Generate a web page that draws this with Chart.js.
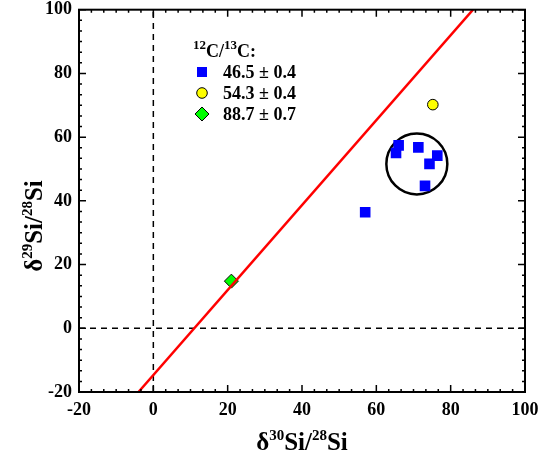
<!DOCTYPE html>
<html lang="en">
<head>
<meta charset="UTF-8">
<title>Si isotopes</title>
<script src="https://cdn.jsdelivr.net/npm/chart.js@4.4.0/dist/chart.umd.min.js"></script>
<style>
  body { margin: 0; background: #fff; }
  #wrap { width: 552px; height: 459px; }
</style>
</head>
<body>
<div id="wrap"><canvas id="siChart"></canvas></div>
<script>
// data
var blueX = [57, 66, 65.3, 71.3, 76.4, 74.3, 73.1];
var blueY = [36.4, 57.4, 55, 56.8, 54.2, 51.6, 44.7];
var yellowX = [75.2];
var yellowY = [70.2];
var greenX = [21];
var greenY = [14.8];
var redLineX = [-4, 86];
var redLineY = [-20, 100];
var circleX = [70.9];
var circleY = [51.6];
var legendLabels = ['46.5 \u00b1 0.4', '54.3 \u00b1 0.4', '88.7 \u00b1 0.7'];
var axisMin = -20, axisMax = 100, axisStep = 20;

function pts(xs, ys) {
    return xs.map(function (x, i) { return { x: x, y: ys[i] }; });
}

var SERIF = '"Liberation Serif", "Times New Roman", serif';

// text with superscripts: parts = [[text, isSup], ...]
function drawRich(ctx, parts, x, y, size, supSize, align) {
    var total = 0;
    parts.forEach(function (p) {
        ctx.font = 'bold ' + (p[1] ? supSize : size) + 'px ' + SERIF;
        total += ctx.measureText(p[0]).width;
    });
    var cx = align === 'center' ? x - total / 2 : x;
    ctx.textBaseline = 'alphabetic';
    ctx.textAlign = 'left';
    parts.forEach(function (p) {
        ctx.font = 'bold ' + (p[1] ? supSize : size) + 'px ' + SERIF;
        ctx.fillText(p[0], cx, p[1] ? y - size * 0.42 : y);
        cx += ctx.measureText(p[0]).width;
    });
}

var framePlugin = {
    id: 'frame',
    afterDatasetsDraw: function (chart) {
        var ctx = chart.ctx, a = chart.chartArea;
        var xs = chart.scales.x, ys = chart.scales.y;
        ctx.save();
        ctx.strokeStyle = '#000';
        ctx.lineWidth = 2;
        ctx.strokeRect(a.left, a.top, a.right - a.left, a.bottom - a.top);
        ctx.lineWidth = 1.5;
        ctx.beginPath();
        for (var i = 0; i <= 36; i++) {
            var v = axisMin + i * axisStep / 6;
            var len = i % 6 === 0 ? 7 : 3;
            var px = xs.getPixelForValue(v), py = ys.getPixelForValue(v);
            ctx.moveTo(px, a.bottom); ctx.lineTo(px, a.bottom - len);
            ctx.moveTo(px, a.top); ctx.lineTo(px, a.top + len);
            ctx.moveTo(a.left, py); ctx.lineTo(a.left + len, py);
            ctx.moveTo(a.right, py); ctx.lineTo(a.right - len, py);
        }
        ctx.stroke();

        // legend
        ctx.fillStyle = '#000';
        drawRich(ctx, [['12', true], ['C/', false], ['13', true], ['C:', false]], 193, 57, 18, 13, 'left');
        var rows = [72, 93, 114];
        ctx.lineWidth = 1;
        // square
        ctx.fillStyle = '#0000ff';
        ctx.fillRect(197, rows[0] - 5, 10, 10);
        // circle
        ctx.beginPath();
        ctx.arc(202, rows[1], 5.3, 0, Math.PI * 2);
        ctx.fillStyle = '#ffff00';
        ctx.fill();
        ctx.strokeStyle = '#000';
        ctx.stroke();
        // diamond
        ctx.beginPath();
        ctx.moveTo(202, rows[2] - 7); ctx.lineTo(209, rows[2]);
        ctx.lineTo(202, rows[2] + 7); ctx.lineTo(195, rows[2]);
        ctx.closePath();
        ctx.fillStyle = '#00ff00';
        ctx.fill();
        ctx.stroke();
        ctx.fillStyle = '#000';
        ctx.font = 'bold 18px ' + SERIF;
        ctx.textAlign = 'left';
        ctx.textBaseline = 'alphabetic';
        legendLabels.forEach(function (t, i) {
            ctx.fillText(t, 223, rows[i] + 6);
        });

        // axis titles
        var cxm = (a.left + a.right) / 2;
        drawRich(ctx, [['\u03b4', false], ['30', true], ['Si/', false], ['28', true], ['Si', false]], cxm, 450, 25, 15, 'center');
        ctx.translate(42, 226);
        ctx.rotate(-Math.PI / 2);
        drawRich(ctx, [['\u03b4', false], ['29', true], ['Si/', false], ['28', true], ['Si', false]], 0, 0, 25, 15, 'center');
        ctx.restore();
    }
};

var ctx = document.getElementById('siChart').getContext('2d');
var chart = new Chart(ctx, {
    type: 'scatter',
    data: {
        datasets: [{
            type: 'line',
            data: pts(redLineX, redLineY),
            borderColor: '#ff0000',
            borderWidth: 2.5,
            pointRadius: 0,
            fill: false
        }, {
            type: 'line',
            data: pts([0, 0], [axisMin, axisMax]),
            borderColor: '#000',
            borderWidth: 1.5,
            borderDash: [6, 5],
            pointRadius: 0
        }, {
            type: 'line',
            data: pts([axisMin, axisMax], [0, 0]),
            borderColor: '#000',
            borderWidth: 1.5,
            borderDash: [6, 5],
            pointRadius: 0
        }, {
            data: pts(blueX, blueY),
            pointStyle: 'rect',
            pointRadius: 7.5,
            backgroundColor: '#0000ff',
            borderColor: '#0000ff',
            borderWidth: 0
        }, {
            data: pts(yellowX, yellowY),
            pointStyle: 'circle',
            pointRadius: 5.3,
            backgroundColor: '#ffff00',
            borderColor: '#000',
            borderWidth: 1
        }, {
            data: pts(greenX, greenY),
            pointStyle: 'rectRot',
            pointRadius: 7,
            backgroundColor: '#00ff00',
            borderColor: '#000',
            borderWidth: 1
        }, {
            data: pts(circleX, circleY),
            pointStyle: 'circle',
            pointRadius: 30.5,
            backgroundColor: 'rgba(0,0,0,0)',
            borderColor: '#000',
            borderWidth: 2.5
        }]
    },
    options: {
        responsive: true,
        maintainAspectRatio: false,
        animation: false,
        layout: { autoPadding: false, padding: { top: 6, right: 27, left: 0, bottom: 0 } },
        plugins: {
            legend: { display: false },
            tooltip: { enabled: false }
        },
        scales: {
            x: {
                type: 'linear',
                min: axisMin,
                max: axisMax,
                afterFit: function (s) { s.height = 67; },
                grid: { display: false, drawTicks: false },
                border: { display: false },
                ticks: {
                    stepSize: axisStep,
                    padding: 8,
                    color: '#000',
                    font: { family: SERIF, size: 18, weight: 'bold' }
                }
            },
            y: {
                type: 'linear',
                min: axisMin,
                max: axisMax,
                afterFit: function (s) { s.width = 79; },
                grid: { display: false, drawTicks: false },
                border: { display: false },
                ticks: {
                    stepSize: axisStep,
                    padding: 7,
                    color: '#000',
                    font: { family: SERIF, size: 18, weight: 'bold', lineHeight: 0.3 }
                }
            }
        }
    },
    plugins: [framePlugin]
});
</script>
</body>
</html>
